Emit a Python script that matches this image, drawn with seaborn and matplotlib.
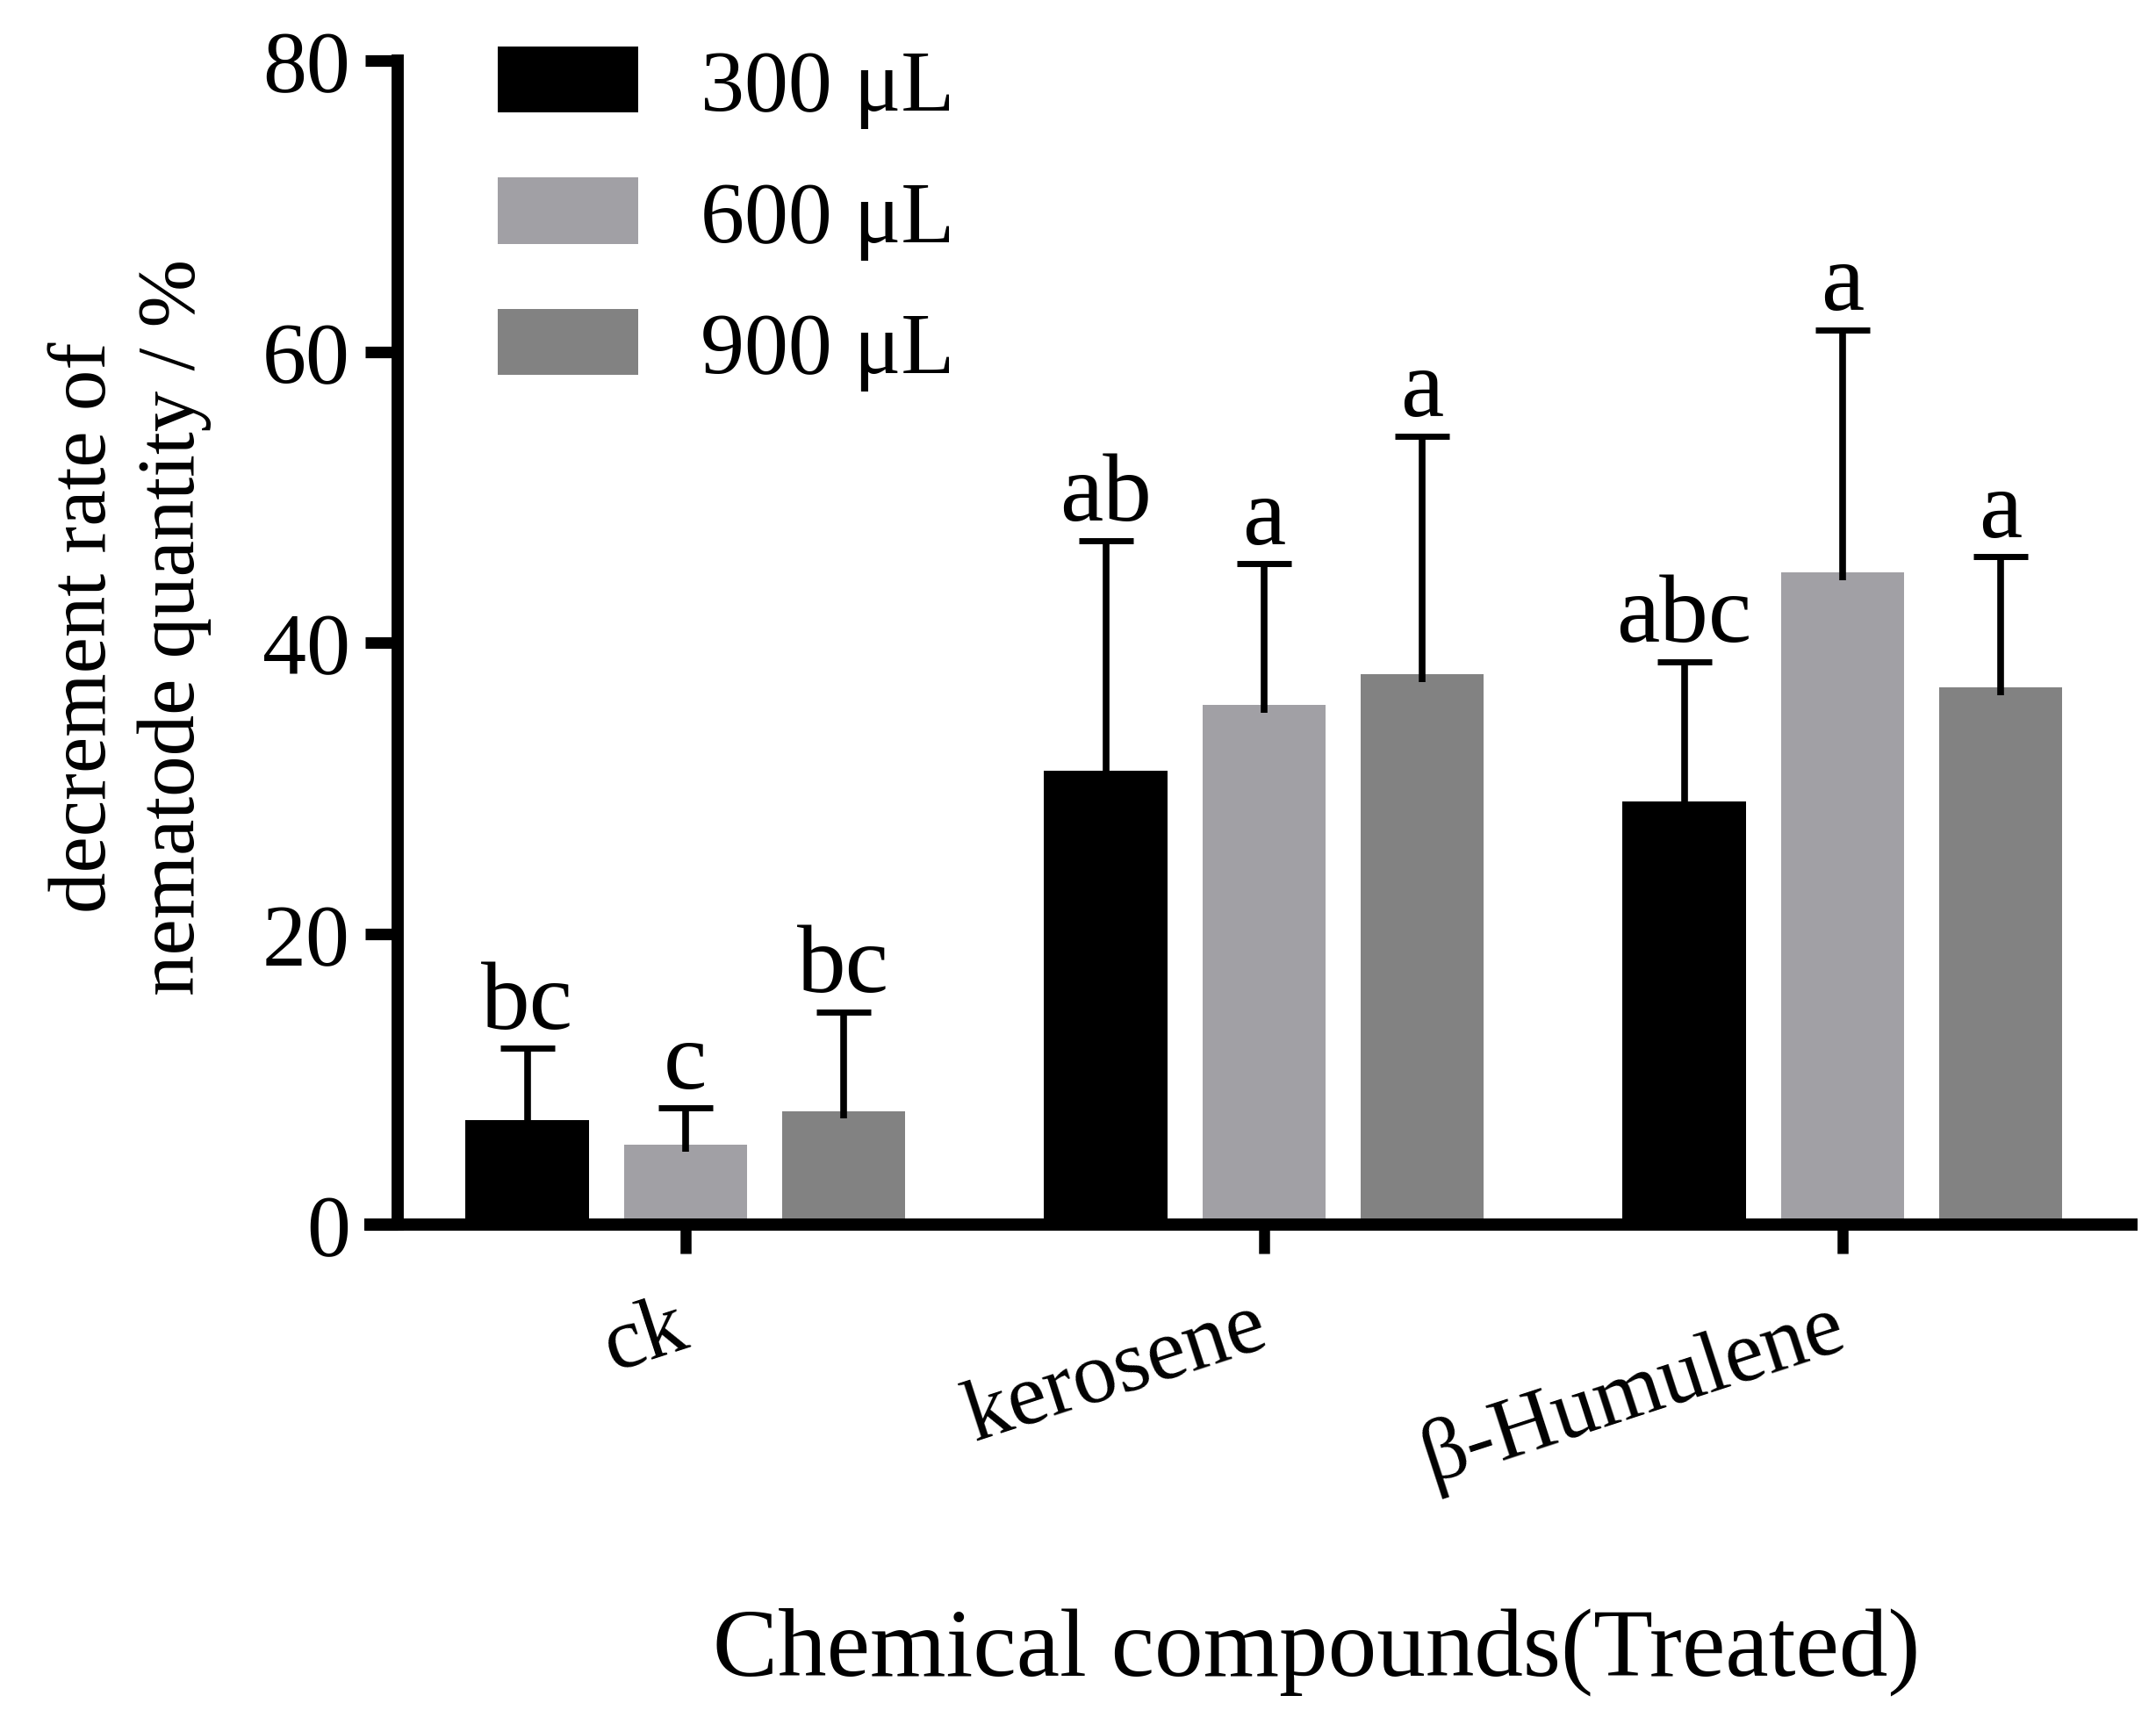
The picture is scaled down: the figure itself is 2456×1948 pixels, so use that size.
import numpy as np
import pandas as pd
import matplotlib
matplotlib.use("Agg")
import matplotlib.pyplot as plt
import seaborn as sns

# ---- data ----
compounds = ["ck", "kerosene", "β-Humulene"]
doses = ["300 μL", "600 μL", "900 μL"]
# mean values per dose (order of compounds)
mean_300 = [7.2, 31.2, 29.1]
mean_600 = [5.5, 35.7, 44.8]
mean_900 = [7.8, 37.8, 36.9]
# upper error (SD) per dose
err_300 = [4.9, 15.8, 9.6]
err_600 = [2.5, 9.7, 16.7]
err_900 = [6.8, 16.4, 9.0]
letters_300 = ["bc", "ab", "abc"]
letters_600 = ["c", "a", "a"]
letters_900 = ["bc", "a", "a"]
colors = ["#000000", "#A1A0A5", "#828282"]
y_ticks = [0, 20, 40, 60, 80]

means = [mean_300, mean_600, mean_900]
errs = [err_300, err_600, err_900]
letters = [letters_300, letters_600, letters_900]

rows = []
for d, m in zip(doses, means):
    for c, v in zip(compounds, m):
        rows.append({"compound": c, "dose": d, "value": v})
df = pd.DataFrame(rows)

sns.set_style("ticks")
plt.rcParams["font.family"] = ["Liberation Serif", "DejaVu Serif"]
plt.rcParams["text.color"] = "black"
plt.rcParams["axes.labelcolor"] = "black"
plt.rcParams["xtick.color"] = "black"
plt.rcParams["ytick.color"] = "black"

fig = plt.figure(figsize=(24.56, 19.49), dpi=100)
ax = fig.add_axes([415 / 2456, 1 - 1396 / 1949, (2435 - 415) / 2456, (1396 - 70) / 1949])

sns.barplot(data=df, x="compound", y="value", hue="dose", order=compounds,
            hue_order=doses, palette=colors, errorbar=None, width=0.82, gap=0.22,
            saturation=1, linewidth=0, ax=ax)

bar_conts = list(ax.containers)

# one-sided error bars + significance letters
for i, cont in enumerate(bar_conts):
    for j, bar in enumerate(cont.patches):
        xc = bar.get_x() + bar.get_width() / 2
        m = means[i][j]
        e = errs[i][j]
        eb = ax.errorbar(xc, m, yerr=[[0.5], [e]], fmt="none", ecolor="black",
                         elinewidth=5.5, capsize=22, capthick=5, zorder=3)
        caps = eb[1]
        if len(caps) >= 2:
            caps[0].set_visible(False)
        ax.annotate(letters[i][j], (xc, m + e), xytext=(0, 17),
                    textcoords="offset points", ha="center", va="baseline",
                    fontsize=80, color="black")

ax.set_xlim(-0.555, 2.51)
ax.set_ylim(0, 80)
ax.set_yticks(y_ticks)
ax.set_yticklabels([str(t) for t in y_ticks])

sns.despine(ax=ax)
for s in ["left", "bottom"]:
    ax.spines[s].set_linewidth(10)
    ax.spines[s].set_color("black")
    ax.spines[s].set_zorder(5)
ax.spines["left"].set_position(("axes", (453 - 415) / 2020))
ax.spines["left"].set_capstyle("projecting")
ax.spines["bottom"].set_capstyle("butt")

ax.tick_params(axis="y", direction="out", length=27, width=9.5, pad=12,
               labelsize=72, color="black", labelcolor="black")
ax.tick_params(axis="x", direction="out", length=24, width=9, pad=58,
               labelsize=72, color="black", labelcolor="black")
for lab in ax.get_xticklabels():
    lab.set_rotation(18)
    lab.set_ha("right")
    lab.set_va("center")
    lab.set_rotation_mode("anchor")

ax.set_ylabel("decrement rate of\nnematode quantity / %", fontsize=67,
              linespacing=1.25, color="black")
ax.yaxis.set_label_coords(-0.086, 0.514)
ax.set_xlabel("Chemical compounds(Treated)", fontsize=80, color="black")
ax.xaxis.label.set_va("baseline")
ax.xaxis.set_label_coords(0.537, -(1908 - 1396) / 1326)

handles, labels = ax.get_legend_handles_labels()
if ax.get_legend() is not None:
    ax.get_legend().remove()
leg = fig.legend(handles[:3], labels[:3], loc="upper left",
                 bbox_to_anchor=(567 / 2456, 1 - 54 / 1949),
                 frameon=False, fontsize=72, borderpad=0, borderaxespad=0,
                 handlelength=1.6, handleheight=0.78, handletextpad=0.71,
                 labelspacing=0.56)
for t in leg.get_texts():
    t.set_color("black")

fig.savefig("out.png", dpi=100, facecolor="white")
